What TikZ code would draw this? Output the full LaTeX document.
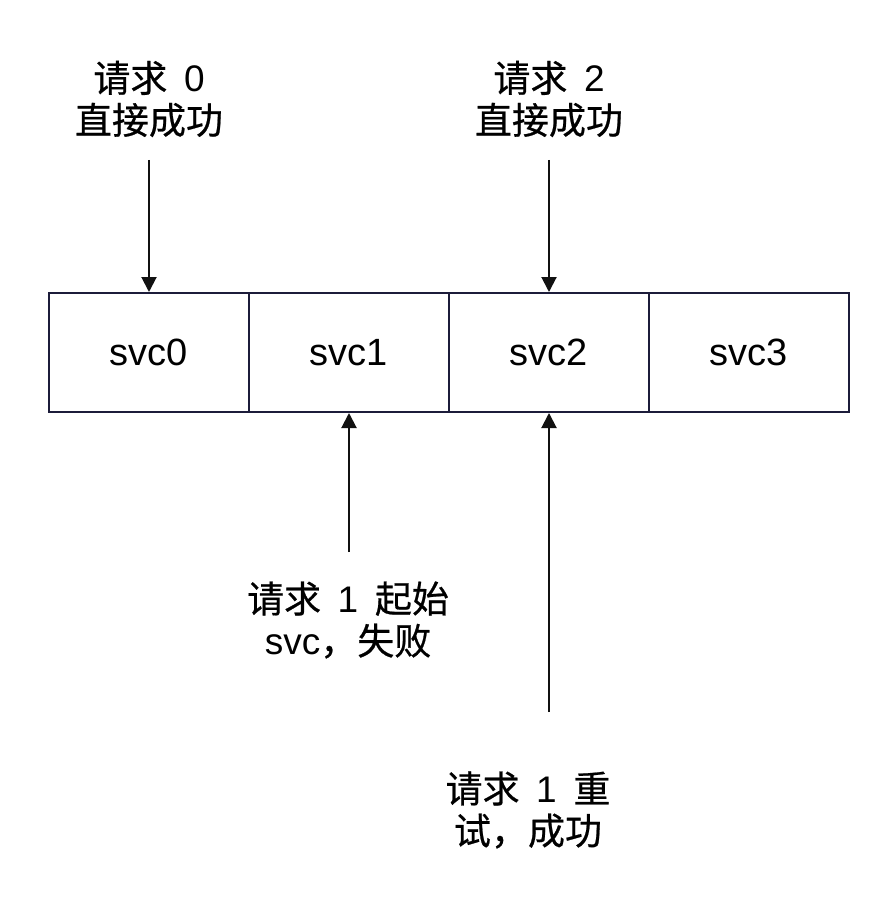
\documentclass[tikz,border=0pt]{standalone}
\usepackage{fontspec}
\setmainfont{Liberation Sans}
\newfontfamily\cjk[FakeBold=0.6]{Noto Sans CJK SC}
\usetikzlibrary{arrows.meta,positioning}
\definecolor{cellline}{HTML}{1C1C3A}
\definecolor{arrowline}{HTML}{111111}
\newcommand{\gap}{\hspace{0.45em}}
\tikzset{
  cell/.style={draw=cellline,line width=2pt,minimum width=200pt,minimum height=119pt,inner sep=0pt,font=\fontsize{38}{42}\selectfont},
  lbl/.style={align=center,inner sep=0pt,font=\fontsize{37}{42}\selectfont},
  req/.style={-{Triangle[length=15pt,width=15pt]},draw=arrowline,line width=2pt}
}
\begin{document}
\begin{tikzpicture}[x=1pt,y=-1pt]
\useasboundingbox (0,0) rectangle (890,912);
\node[cell] (S0) at (149,352.5) {svc0};
\node[cell] (S1) at (349,352.5) {svc1};
\node[cell] (S2) at (549,352.5) {svc2};
\node[cell] (S3) at (749,352.5) {svc3};
\node[lbl] (R0) at (149,99) {{\cjk 请求}\gap 0\\{\cjk 直接成功}};
\node[lbl] (R2) at (549,99) {{\cjk 请求}\gap 2\\{\cjk 直接成功}};
\node[lbl] (R1a) at (348,620) {{\cjk 请求}\gap 1\gap{\cjk 起始}\\svc{\cjk ，失败}};
\node[lbl] (R1b) at (528,810) {{\cjk 请求}\gap 1\gap{\cjk 重}\\{\cjk 试，成功}};
\coordinate (T0) at (149,160);
\coordinate (T2) at (549,160);
\coordinate (B1) at (349,552);
\coordinate (B2) at (549,712);
\draw[req] (T0) -- (S0.north);
\draw[req] (T2) -- (S2.north);
\draw[req] (B1) -- (S1.south);
\draw[req] (B2) -- (S2.south);
\end{tikzpicture}
\end{document}
